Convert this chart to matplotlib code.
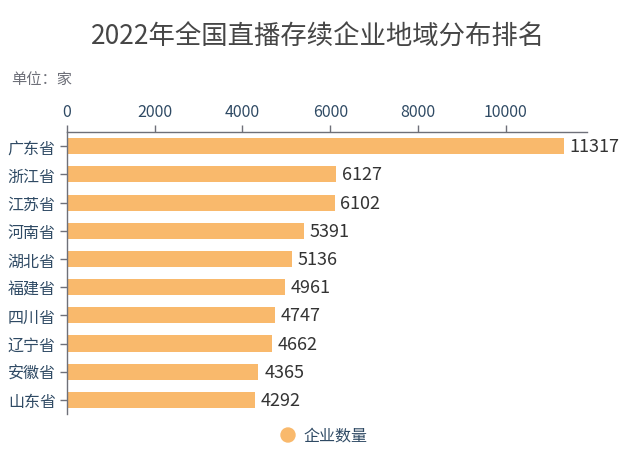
import matplotlib
matplotlib.use("Agg")
from matplotlib import pyplot as plt

plt.rcParams['font.family'] = ['Noto Sans CJK SC', 'DejaVu Sans']

provinces = ['广东省', '浙江省', '江苏省', '河南省', '湖北省', '福建省', '四川省', '辽宁省', '安徽省', '山东省']
counts = [11317, 6127, 6102, 5391, 5136, 4961, 4747, 4662, 4365, 4292]
xticks = [0, 2000, 4000, 6000, 8000, 10000]

bar_color = '#F9B96C'
axis_color = '#6E7079'
label_color = '#2F4A64'

fig = plt.figure(figsize=(6.37, 4.56), dpi=100)
ax = fig.add_axes([0.105, 0.09, 0.8165, 0.618])

y = list(range(len(provinces)))
ax.barh(y, counts, height=0.57, color=bar_color)
ax.set_ylim(len(provinces) - 0.5, -0.5)
ax.set_xlim(0, 11850)

for yi, v in zip(y, counts):
    ax.text(v + 130, yi, str(v), va='center', ha='left', fontsize=13, color='#333333')

ax.xaxis.tick_top()
ax.set_xticks(xticks)
ax.set_xticklabels([str(t) for t in xticks])
ax.set_yticks(y)
ax.set_yticklabels(provinces)
ax.tick_params(axis='x', colors=axis_color, labelcolor=label_color, labelsize=11.5, length=5, width=1, pad=4)
ax.tick_params(axis='y', colors=axis_color, labelcolor=label_color, labelsize=11.5, length=5, width=1, pad=3)

for s in ['right', 'bottom']:
    ax.spines[s].set_visible(False)
for s in ['top', 'left']:
    ax.spines[s].set_color(axis_color)
    ax.spines[s].set_linewidth(1)

fig.text(0.5, 1 - 37 / 456, '2022年全国直播存续企业地域分布排名', ha='center', va='center', fontsize=19, color='#464646')
fig.text(0.018, 0.825, '单位：家', ha='left', va='center', fontsize=11, color=axis_color)

# legend
fig.patches.append(matplotlib.patches.Ellipse((288 / 637, 1 - 436 / 456), 14 / 637, 14 / 456,
                                              transform=fig.transFigure, color=bar_color))
fig.text(303 / 637, 1 - 436 / 456, '企业数量', ha='left', va='center', fontsize=11.5, color=label_color)

fig.savefig('out.png', dpi=100)
